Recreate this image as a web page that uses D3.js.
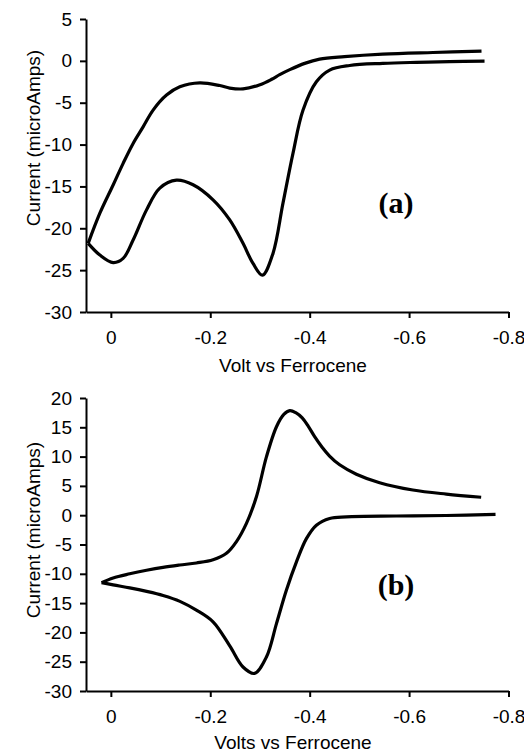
<!DOCTYPE html>
<html>
<head>
<meta charset="utf-8">
<script src="https://cdn.jsdelivr.net/npm/d3@7"></script>
<style>
  body { margin: 0; background: #fff; }
  svg { display: block; }
  .tick text { font-family: "Liberation Sans", Arial, sans-serif; font-size: 19px; fill: #000; }
  .axis-title { font-family: "Liberation Sans", Arial, sans-serif; font-size: 19px; fill: #000; }
  .panel-tag { font-family: "Liberation Serif", "Times New Roman", serif; font-size: 30px; font-weight: bold; fill: #000; }
</style>
</head>
<body>
<svg id="chart" width="524" height="753"></svg>
<script>
// panel (a): forward sweep (lower branch) and return sweep (upper branch)
const aForwardVolt = [0.0456, 0.0221, -0.0046, -0.0247, -0.0448, -0.0718, -0.0985, -0.132, -0.1654, -0.2056, -0.2392, -0.2659, -0.286, -0.305, -0.3262, -0.3463, -0.3664, -0.3865, -0.4135, -0.4402, -0.4804, -0.5473, -0.6145, -0.6814, -0.7518];
const aForwardCurrent = [-21.8, -23.2, -24.1, -23.6, -21.4, -17.8, -15.2, -14.25, -14.8, -16.6, -19.0, -21.8, -24.2, -25.6, -23.0, -17.0, -11.05, -5.9, -2.5, -1.1, -0.55, -0.3, -0.18, -0.1, -0.04];
const aReturnVolt = [-0.7457, -0.648, -0.547, -0.47, -0.42, -0.39, -0.36, -0.3397, -0.3236, -0.30, -0.2659, -0.2391, -0.2191, -0.1789, -0.1387, -0.112, -0.085, -0.0649, -0.0448, -0.0247, -0.0046, 0.0221, 0.0456];
const aReturnCurrent = [1.16, 1.0, 0.8, 0.5, 0.2, -0.3, -1.05, -1.65, -2.2, -2.85, -3.35, -3.25, -2.95, -2.63, -3.1, -4.09, -5.88, -7.88, -9.86, -12.24, -14.83, -18.2, -21.8];

// panel (b): upper and lower branch, both starting at the left tip
const bUpperVolt = [0.0187, -0.0046, -0.038, -0.0718, -0.105, -0.1387, -0.1722, -0.2056, -0.2325, -0.2527, -0.2728, -0.293, -0.3131, -0.3332, -0.348, -0.36, -0.372, -0.385, -0.397, -0.41, -0.425, -0.44, -0.4603, -0.4939, -0.5407, -0.6076, -0.6748, -0.745];
const bUpperCurrent = [-11.5, -10.7, -10.0, -9.4, -8.9, -8.5, -8.15, -7.6, -6.5, -4.5, -1.4, 3.2, 10.0, 15.1, 17.2, 17.85, 17.5, 16.6, 15.2, 13.4, 11.6, 10.1, 8.6, 7.0, 5.55, 4.3, 3.6, 3.06];
const bLowerVolt = [0.0187, -0.0046, -0.038, -0.072, -0.105, -0.139, -0.172, -0.2056, -0.2392, -0.2659, -0.289, -0.313, -0.3332, -0.3531, -0.3732, -0.3934, -0.4135, -0.4402, -0.4738, -0.5743, -0.6748, -0.7739];
const bLowerCurrent = [-11.5, -11.9, -12.4, -13.0, -13.7, -14.7, -16.2, -18.2, -22.3, -25.9, -27.0, -24.2, -18.5, -12.8, -8.0, -4.0, -1.7, -0.55, -0.28, -0.14, -0.05, 0.15];

const voltTicks = [0, -0.2, -0.4, -0.6, -0.8];
const aCurrentTicks = [5, 0, -5, -10, -15, -20, -25, -30];
const bCurrentTicks = [20, 15, 10, 5, 0, -5, -10, -15, -20, -25, -30];

const svg = d3.select('#chart');

function drawPanel(opts) {
  const g = svg.append('g');
  const x = d3.scaleLinear().domain([0.05, -0.8]).range([86, 508.5]);
  const y = d3.scaleLinear().domain(opts.yDomain).range([opts.bottom, opts.top]);

  const line = d3
    .line()
    .x((d) => x(d[0]))
    .y((d) => y(d[1]))
    .curve(d3.curveCatmullRom.alpha(0.5));

  opts.series.forEach(([volts, currents]) => {
    g.append('path')
      .datum(volts.map((v, i) => [v, currents[i]]))
      .attr('fill', 'none')
      .attr('stroke', '#000')
      .attr('stroke-width', 3.2)
      .attr('stroke-linejoin', 'round')
      .attr('d', line);
  });

  const yAxis = g
    .append('g')
    .attr('transform', 'translate(86,0)')
    .call(d3.axisLeft(y).tickValues(opts.yTicks).tickSize(6).tickSizeOuter(0).tickPadding(8).tickFormat((d) => String(d)));
  const xAxis = g
    .append('g')
    .attr('transform', `translate(0,${opts.bottom})`)
    .call(d3.axisBottom(x).tickValues(voltTicks).tickSize(6).tickSizeOuter(0).tickPadding(13).tickFormat((d) => String(d)));

  [yAxis, xAxis].forEach((ax) => {
    ax.selectAll('path, line').attr('stroke', '#000').attr('stroke-width', 2);
    ax.attr('font-family', null).attr('font-size', null);
  });

  g.append('text')
    .attr('class', 'axis-title')
    .attr('text-anchor', 'middle')
    .attr('x', 293)
    .attr('y', opts.xTitleY)
    .text(opts.xTitle);

  g.append('text')
    .attr('class', 'axis-title')
    .attr('text-anchor', 'middle')
    .attr('transform', `translate(40,${opts.yTitleY}) rotate(-90)`)
    .text('Current (microAmps)');

  g.append('text')
    .attr('class', 'panel-tag')
    .attr('text-anchor', 'middle')
    .attr('x', 396)
    .attr('y', opts.tagY)
    .text(opts.tag);
}

drawPanel({
  yDomain: [-30, 5],
  top: 19,
  bottom: 312,
  yTicks: aCurrentTicks,
  series: [[aForwardVolt, aForwardCurrent], [aReturnVolt, aReturnCurrent]],
  xTitle: 'Volt vs Ferrocene',
  xTitleY: 372,
  yTitleY: 138,
  tag: '(a)',
  tagY: 213,
});

drawPanel({
  yDomain: [-30, 20],
  top: 398,
  bottom: 691,
  yTicks: bCurrentTicks,
  series: [[bUpperVolt, bUpperCurrent], [bLowerVolt, bLowerCurrent]],
  xTitle: 'Volts vs Ferrocene',
  xTitleY: 749,
  yTitleY: 530,
  tag: '(b)',
  tagY: 595,
});
</script>
</body>
</html>
